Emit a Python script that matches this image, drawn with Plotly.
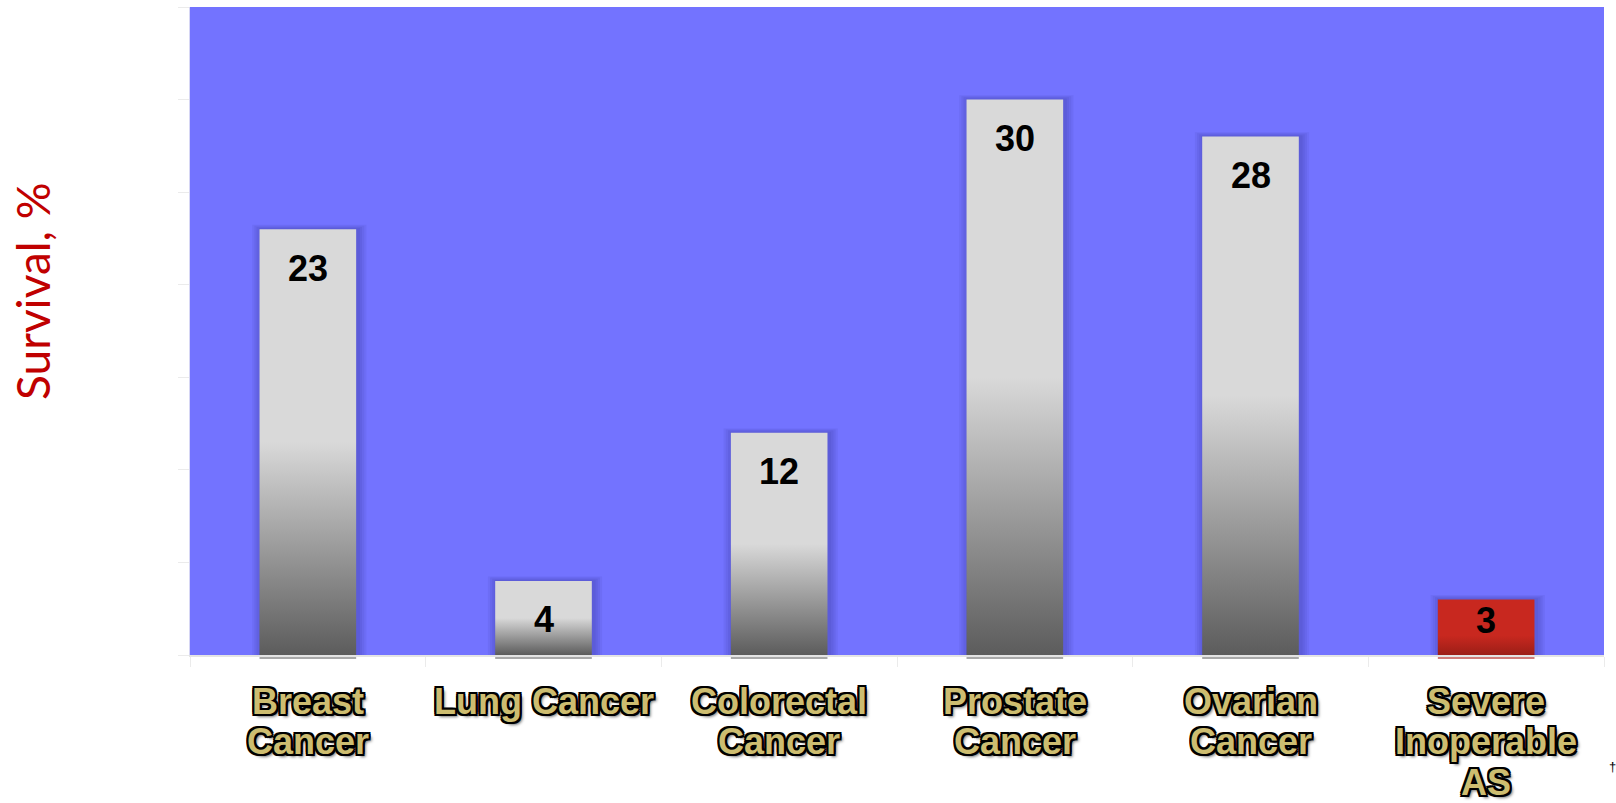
import plotly.graph_objects as go

# ---- data -------------------------------------------------------------
categories = ["Breast<br>Cancer", "Lung Cancer", "Colorectal<br>Cancer",
              "Prostate<br>Cancer", "Ovarian<br>Cancer", "Severe<br>Inoperable<br>AS"]
survival = [23, 4, 12, 30, 28, 3]
highlight = [False, False, False, False, False, True]
y_ticks = [0, 5, 10, 15, 20, 25, 30, 35]

# ---- style ------------------------------------------------------------
W, H = 1616, 803
M_L, M_R, M_T, M_B = 190, 12, 7, 148
PLOT_H = H - M_T - M_B
BAR_W = 0.41
BG = "#7373FF"
GRAY_SCALE = [[0, "#5C5C5C"], [0.5, "#D9D9D9"], [1, "#D9D9D9"]]
RED_SCALE = [[0, "#9C1E17"], [0.35, "#C8281F"], [1, "#C8281F"]]
LABEL_FONT = "Liberation Sans, Arial, sans-serif"
OUTLINE = ("-2px -2px 0 #000, 2px -2px 0 #000, -2px 2px 0 #000, 2px 2px 0 #000, "
           "0 2px 0 #000, 0 -2px 0 #000, 2px 0 0 #000, -2px 0 0 #000, 3px 3px 3px #777")

fig = go.Figure()

n = len(categories)
px_x = (W - M_L - M_R) / n  # pixels per category

# soft shadow behind each bar
for i, v in enumerate(survival):
    for k in range(1, 5):
        dx = k * 2.2 / px_x
        fig.add_trace(go.Scatter(
            x=[i - BAR_W / 2 - dx + 1.5 / px_x, i + BAR_W / 2 + dx + 1.5 / px_x,
               i + BAR_W / 2 + dx + 1.5 / px_x, i - BAR_W / 2 - dx + 1.5 / px_x],
            y=[0, 0, v + k * 0.06, v + k * 0.06],
            fill="toself", fillcolor="rgba(20,20,90,0.06)",
            mode="lines", line=dict(width=0), hoverinfo="skip", showlegend=False))

# gradient-filled bars
for i, v in enumerate(survival):
    fig.add_trace(go.Scatter(
        x=[i - BAR_W / 2, i + BAR_W / 2, i + BAR_W / 2, i - BAR_W / 2, i - BAR_W / 2],
        y=[0, 0, v, v, 0],
        fill="toself",
        fillgradient=dict(type="vertical",
                          colorscale=RED_SCALE if highlight[i] else GRAY_SCALE),
        mode="lines", line=dict(width=0), hoverinfo="skip", showlegend=False))

annotations = []
shapes = []

# value labels inside bars
min_label_y = 1.84
for i, v in enumerate(survival):
    annotations.append(dict(
        x=i, y=max(v - 2.1, min_label_y), xref="x", yref="y",
        text=f"<b>{v}</b>", showarrow=False, yanchor="middle",
        font=dict(family=LABEL_FONT, size=36, color="#000000")))
    # thin reflection line under each bar
    shapes.append(dict(
        type="line", xref="x", yref="paper",
        x0=i - BAR_W / 2, x1=i + BAR_W / 2,
        y0=-3 / PLOT_H, y1=-3 / PLOT_H,
        line=dict(color="#C0504D" if highlight[i] else "#8C8C8C", width=1.5)))

# category labels, one annotation per line
first_line_px = 46
line_gap_px = 40.5
for i, cat in enumerate(categories):
    for j, part in enumerate(cat.split("<br>")):
        annotations.append(dict(
            x=i, y=0, xref="x", yref="paper",
            yshift=-(first_line_px + j * line_gap_px),
            text=f"<b>{part}</b>", showarrow=False,
            xanchor="center", yanchor="middle",
            font=dict(family=LABEL_FONT, size=36, color="#CDBD70",
                      shadow=OUTLINE)))

# y-axis title
annotations.append(dict(
    x=0, y=(655 - 291) / PLOT_H, xref="paper", yref="paper",
    xshift=-157, text="Survival, %", textangle=-90, showarrow=False,
    xanchor="center", yanchor="middle",
    font=dict(family="Lato, sans-serif", size=46, color="#C00000")))

# footnote mark
annotations.append(dict(
    x=1.0057, y=(655 - 767) / PLOT_H, xref="paper", yref="paper",
    text="†", showarrow=False, xanchor="center", yanchor="middle",
    font=dict(family=LABEL_FONT, size=13, color="#000000")))

fig.update_layout(
    width=W, height=H,
    margin=dict(l=M_L, r=M_R, t=M_T, b=M_B),
    paper_bgcolor="#FFFFFF", plot_bgcolor=BG,
    xaxis=dict(range=[-0.5, n - 0.5], tickvals=[k - 0.5 for k in range(n + 1)],
               showticklabels=False, ticks="outside", ticklen=10,
               tickcolor="#EBEBEB", showgrid=False, zeroline=False,
               showline=True, linecolor="#E4E4E4", linewidth=2, fixedrange=True),
    yaxis=dict(range=[y_ticks[0], y_ticks[-1]], tickvals=y_ticks,
               showticklabels=False, ticks="outside", ticklen=11,
               tickcolor="#EBEBEB", showgrid=False, zeroline=False,
               showline=True, linecolor="#D6D6F4", linewidth=1, fixedrange=True),
    annotations=annotations, shapes=shapes,
    showlegend=False,
)

fig.write_html("out.html")
